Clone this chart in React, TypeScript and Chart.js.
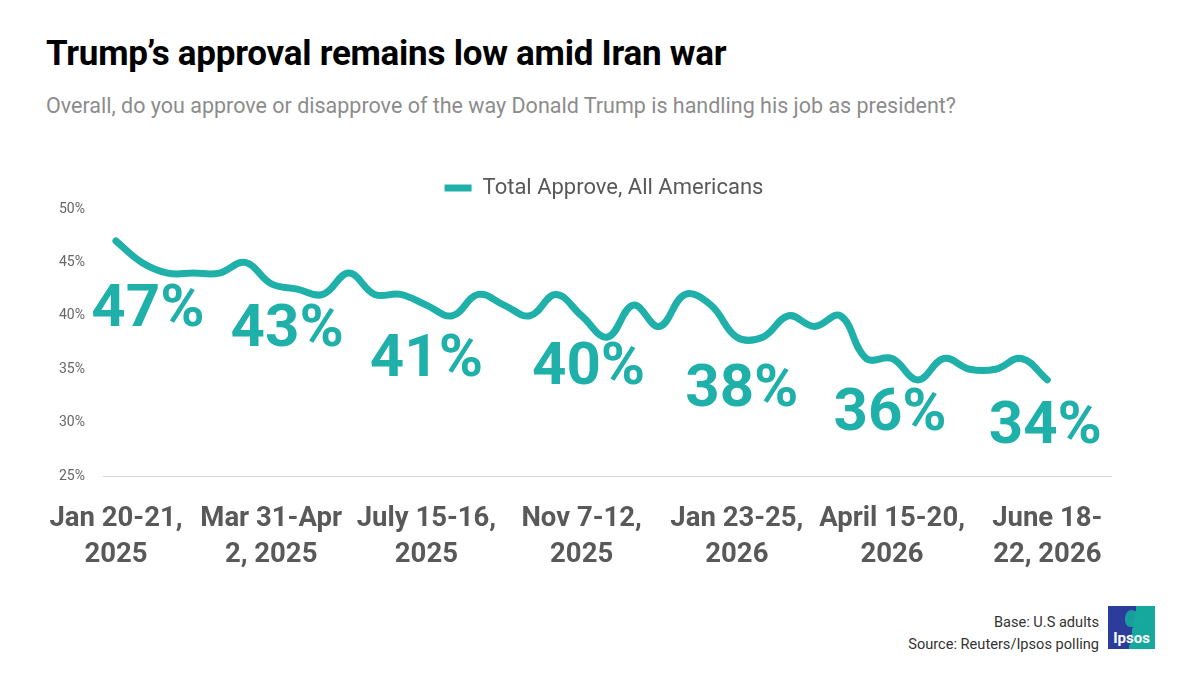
import React, { useEffect, useRef } from "react";
import { Chart, registerables } from "chart.js";

Chart.register(...registerables);

const TEAL = "#1FB0AA";

// Poll-by-poll total approve (%), Jan 2025 -> June 2026
const approveValues = [
  47, 45, 44, 44, 44, 45, 43, 42.5, 42, 44, 42, 42, 41, 40, 42, 41, 40, 42, 40, 38,
  41, 39, 42, 41, 38, 38, 40, 39, 40, 36, 36, 34, 36, 35, 35, 36, 34,
];

// Labelled polls (index into approveValues) and their x-axis labels
const labelledIndex = [0, 6, 12, 18, 24, 30, 36];
const tickLabels = [
  ["Jan 20-21,", "2025"],
  ["Mar 31-Apr", "2, 2025"],
  ["July 15-16,", "2025"],
  ["Nov 7-12,", "2025"],
  ["Jan 23-25,", "2026"],
  ["April 15-20,", "2026"],
  ["June 18-", "22, 2026"],
];
const calloutValues = [47, 43, 41, 40, 38, 36, 34];

const yTicks = [25, 30, 35, 40, 45, 50];

// callout placement offsets in pixels relative to the point (style only)
const calloutOffsets = [
  [32, 85],
  [16, 62],
  [0, 71],
  [7, 68],
  [5, 69],
  [-2, 71],
  [-2, 63],
];

const calloutPlugin = {
  id: "callouts",
  afterDatasetsDraw(chart: any) {
    const meta = chart.getDatasetMeta(0);
    const ctx = chart.ctx;
    ctx.save();
    ctx.font = "bold 60px Roboto";
    ctx.fillStyle = TEAL;
    ctx.textAlign = "center";
    ctx.textBaseline = "alphabetic";
    labelledIndex.forEach((idx, k) => {
      const pt = meta.data[idx];
      if (!pt) return;
      const [dx, dy] = calloutOffsets[k];
      ctx.fillText(calloutValues[k] + "%", pt.x + dx, pt.y + dy);
    });
    ctx.restore();
  },
};

export default function App() {
  const canvasRef = useRef<HTMLCanvasElement | null>(null);

  useEffect(() => {
    if (!canvasRef.current) return;
    Chart.defaults.font.family = "Roboto";
    const chart = new Chart(canvasRef.current, {
      type: "line",
      data: {
        datasets: [
          {
            label: "Total Approve, All Americans",
            data: approveValues.map((v, i) => ({ x: i, y: v })),
            borderColor: TEAL,
            backgroundColor: TEAL,
            borderWidth: 7,
            borderCapStyle: "round",
            borderJoinStyle: "round",
            pointRadius: 0,
            pointHoverRadius: 0,
            tension: 0.4,
          },
        ],
      },
      options: {
        animation: false,
        responsive: false,
        maintainAspectRatio: false,
        layout: { padding: { top: 18, left: 96, right: 88, bottom: 0 } },
        plugins: {
          tooltip: { enabled: false },
          legend: {
            display: true,
            position: "top",
            labels: {
              usePointStyle: true,
              pointStyle: "line",
              pointStyleWidth: 27,
              color: "#595959",
              font: { size: 22, family: "Roboto" },
              padding: 9,
            },
          },
        },
        scales: {
          x: {
            type: "linear",
            min: -0.5,
            max: 38.5,
            grid: { display: false },
            border: { display: false },
            afterBuildTicks: (axis: any) => {
              axis.ticks = labelledIndex.map((v) => ({ value: v }));
            },
            afterFit: (axis: any) => {
              axis.height = 110;
            },
            ticks: {
              autoSkip: false,
              maxRotation: 0,
              padding: 17,
              color: "#595959",
              font: { size: 27.5, weight: "bold", family: "Roboto", lineHeight: 1.3 },
              callback: (v: any) => {
                const k = labelledIndex.indexOf(Number(v));
                return k >= 0 ? tickLabels[k] : "";
              },
            },
          },
          y: {
            min: 25,
            max: 50,
            afterBuildTicks: (axis: any) => {
              axis.ticks = yTicks.map((v) => ({ value: v }));
            },
            afterFit: (axis: any) => {
              axis.width = 7;
            },
            grid: {
              drawTicks: false,
              color: (c: any) => (c.tick && c.tick.value === 25 ? "#d9d9d9" : "transparent"),
              lineWidth: 1,
            },
            border: { display: false },
            ticks: {
              mirror: true,
              crossAlign: "far",
              padding: -44,
              color: "#666666",
              font: { size: 14, family: "Roboto" },
              callback: (v: any) => v + "%",
            },
          },
        },
      },
      plugins: [calloutPlugin],
    } as any);
    return () => chart.destroy();
  }, []);

  return (
    <div
      style={{
        position: "relative",
        width: 1200,
        height: 675,
        margin: -8,
        background: "#fff",
        fontFamily: "Roboto, sans-serif",
        overflow: "hidden",
      }}
    >
      <div
        style={{
          position: "absolute",
          left: 46,
          top: 33,
          fontSize: 35,
          fontWeight: 700,
          color: "#000",
          letterSpacing: -0.25,
          whiteSpace: "nowrap",
        }}
      >
        Trump’s approval remains low amid Iran war
      </div>
      <div
        style={{
          position: "absolute",
          left: 46,
          top: 93,
          fontSize: 21.5,
          color: "#8c8c8c",
          whiteSpace: "nowrap",
        }}
      >
        Overall, do you approve or disapprove of the way Donald Trump is handling his job as president?
      </div>
      <canvas
        ref={canvasRef}
        width={1200}
        height={436}
        style={{ position: "absolute", left: 0, top: 150, width: 1200, height: 436 }}
      />
      <div
        style={{
          position: "absolute",
          right: 101,
          top: 611,
          fontSize: 14.6,
          color: "#333",
          textAlign: "right",
          lineHeight: "22px",
          whiteSpace: "nowrap",
        }}
      >
        <div>Base: U.S adults</div>
        <div>Source: Reuters/Ipsos polling</div>
      </div>
      <div
        style={{
          position: "absolute",
          left: 1108,
          top: 606,
          width: 47,
          height: 43,
          background: "linear-gradient(100deg, #2c3c9a 0%, #2c3c9a 52%, #17a89d 52%, #17a89d 100%)",
          color: "#fff",
          fontWeight: 700,
          fontSize: 15,
          display: "flex",
          alignItems: "flex-end",
          justifyContent: "center",
          paddingBottom: 2,
          boxSizing: "border-box",
        }}
      >
        <div
          style={{
            position: "absolute",
            left: 17,
            top: 4,
            width: 13,
            height: 17,
            borderRadius: "50% 50% 40% 40%",
            background: "#17a89d",
            opacity: 0.9,
          }}
        />
        <span style={{ position: "relative" }}>Ipsos</span>
      </div>
    </div>
  );
}
